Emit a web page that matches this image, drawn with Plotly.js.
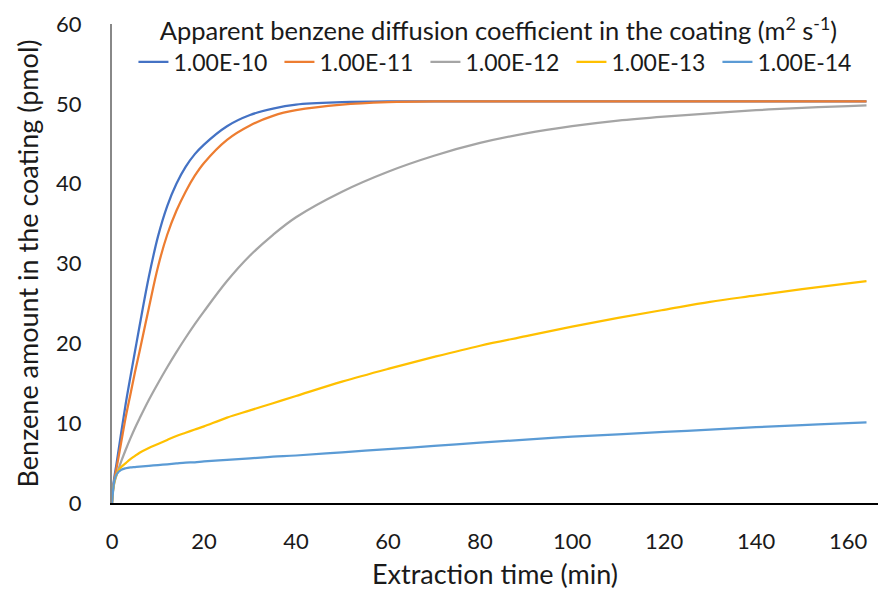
<!DOCTYPE html>
<html>
<head>
<meta charset="utf-8">
<script src="https://cdn.plot.ly/plotly-3.0.1.min.js"></script>
<style>html,body{margin:0;padding:0;background:#fff;}#chart{width:878px;height:592px;}</style>
</head>
<body>
<div id="chart"></div>
<script>
// Extraction time (min)
const time = [0, 0.2, 0.5, 1, 2, 3, 4, 5, 6, 8, 10, 12, 14, 16, 18, 20, 25, 30, 35, 40, 50, 60, 70, 80, 90, 100, 110, 120, 130, 140, 150, 160, 164];
// Benzene amount in the coating (pmol), by apparent diffusion coefficient
const d1e10 = [0, 1.8, 3.2, 5.0, 8.8, 12.5, 15.8, 19.0, 22.2, 28.3, 33.4, 37.2, 40.0, 42.1, 43.7, 44.9, 47.2, 48.6, 49.4, 49.9, 50.2, 50.3, 50.3, 50.3, 50.3, 50.3, 50.3, 50.3, 50.3, 50.3, 50.3, 50.3, 50.3];
const d1e11 = [0, 1.7, 2.9, 4.4, 7.6, 10.8, 13.6, 16.4, 19.0, 24.4, 29.6, 33.6, 36.6, 39.0, 41.0, 42.6, 45.5, 47.3, 48.5, 49.2, 49.9, 50.2, 50.3, 50.3, 50.3, 50.3, 50.3, 50.3, 50.3, 50.3, 50.3, 50.3, 50.3];
const d1e12 = [0, 1.5, 2.5, 3.5, 5.2, 6.7, 8.1, 9.4, 10.6, 12.9, 15.0, 17.0, 18.9, 20.7, 22.4, 24.0, 27.8, 31.0, 33.6, 35.8, 39.0, 41.5, 43.5, 45.1, 46.3, 47.2, 47.9, 48.4, 48.8, 49.2, 49.5, 49.7, 49.8];
const d1e13 = [0, 1.4, 2.6, 3.6, 4.5, 5.0, 5.5, 5.9, 6.3, 6.9, 7.4, 7.9, 8.4, 8.8, 9.2, 9.6, 10.7, 11.6, 12.5, 13.4, 15.2, 16.8, 18.3, 19.7, 20.9, 22.1, 23.2, 24.2, 25.2, 26.0, 26.8, 27.5, 27.8];
const d1e14 = [0, 1.3, 2.8, 3.6, 4.15, 4.35, 4.45, 4.5, 4.55, 4.65, 4.75, 4.85, 4.95, 5.05, 5.1, 5.2, 5.4, 5.6, 5.8, 5.95, 6.35, 6.75, 7.15, 7.55, 7.95, 8.3, 8.6, 8.9, 9.2, 9.5, 9.75, 10.0, 10.1];

const names = ['1.00E-10', '1.00E-11', '1.00E-12', '1.00E-13', '1.00E-14'];
const series = [d1e10, d1e11, d1e12, d1e13, d1e14];
const colors = ['#4472C4', '#ED7D31', '#A5A5A5', '#FFC000', '#5B9BD5'];

const font = 'Lato, "Open Sans", sans-serif';
const ink = '#1a1a1a';
const traces = series.map((s, i) => ({
  x: time, y: s, name: names[i], type: 'scatter', mode: 'lines',
  line: {color: colors[i], width: 2.25, shape: 'spline', smoothing: 1}
}));

const layout = {
  width: 878, height: 592,
  margin: {l: 112, r: 0, t: 24, b: 89},
  paper_bgcolor: '#fff', plot_bgcolor: '#fff',
  font: {family: font, color: ink, size: 22},
  showlegend: true,
  legend: {
    orientation: 'h', x: 0.028, y: 1.035, xanchor: 'left', yanchor: 'top',
    bgcolor: 'rgba(0,0,0,0)', font: {family: font, size: 23, color: ink},
    title: {text: 'Apparent benzene diffusion coefficient in the coating (m<sup>2</sup> s<sup>-1</sup>)', side: 'top center', font: {family: font, size: 25.5, color: ink}},
    itemwidth: 30, entrywidth: 101, tracegroupgap: 0
  },
  xaxis: {
    range: [0, 166.5], dtick: 20, tick0: 0, showgrid: false, zeroline: false,
    showline: true, linecolor: '#000', linewidth: 1.5, ticks: '',
    ticklabelstandoff: 18,
    tickfont: {family: font, size: 22, color: ink},
    title: {text: 'Extraction time (min)', font: {family: font, size: 27, color: ink}, standoff: 12}
  },
  yaxis: {
    range: [0, 60], dtick: 10, tick0: 0, showgrid: false, zeroline: false,
    showline: true, linecolor: '#888', linewidth: 2, ticks: '',
    ticklabelstandoff: 24,
    tickfont: {family: font, size: 22, color: ink},
    title: {text: 'Benzene amount in the coating (pmol)', font: {family: font, size: 27, color: ink}, standoff: 10}
  }
};

Plotly.newPlot('chart', traces, layout, {staticPlot: true, displayModeBar: false});
</script>
</body>
</html>
